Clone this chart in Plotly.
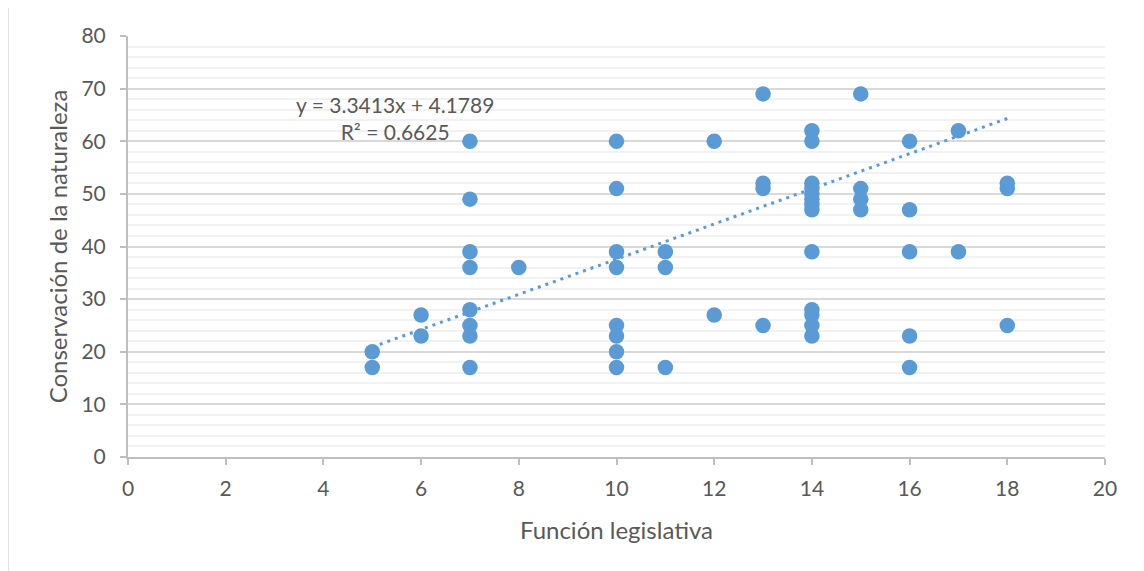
import plotly.graph_objects as go
import numpy as np

# Data
x_vals = [5, 5,
          6, 6,
          7, 7, 7, 7, 7, 7, 7, 7,
          8,
          10, 10, 10, 10, 10, 10, 10, 10,
          11, 11, 11,
          12, 12,
          13, 13, 13, 13,
          14, 14, 14, 14, 14, 14, 14, 14, 14, 14, 14, 14, 14,
          15, 15, 15, 15,
          16, 16, 16, 16, 16,
          17, 17,
          18, 18, 18]
y_vals = [20, 17,
          27, 23,
          60, 49, 39, 36, 28, 25, 23, 17,
          36,
          60, 51, 39, 36, 25, 23, 20, 17,
          39, 36, 17,
          60, 27,
          69, 52, 51, 25,
          62, 60, 52, 51, 50, 49, 48, 47, 39, 28, 27, 25, 23,
          69, 51, 49, 47,
          60, 47, 39, 23, 17,
          62, 39,
          52, 51, 25]

slope = 3.3413
intercept = 4.1789
r_squared = 0.6625

x_title = "Función legislativa"
y_title = "Conservación de la naturaleza"
x_ticks = [0, 2, 4, 6, 8, 10, 12, 14, 16, 18, 20]
y_ticks = [0, 10, 20, 30, 40, 50, 60, 70, 80]

blue = "#5B9BD5"
text_color = "#595959"
font_family = "Lato, 'Open Sans', sans-serif"

trend_x = np.array([min(x_vals), max(x_vals)], dtype=float)
trend_y = slope * trend_x + intercept

fig = go.Figure()

fig.add_trace(go.Scatter(
    x=x_vals, y=y_vals, mode="markers",
    marker=dict(size=15.5, color=blue, line=dict(width=0)),
    showlegend=False, hoverinfo="x+y"))

fig.add_trace(go.Scatter(
    x=trend_x, y=trend_y, mode="lines",
    line=dict(color=blue, width=3, dash="3px,5px"),
    showlegend=False, hoverinfo="skip"))

# page has an 8px body margin; plot area should land at (128..1105, 36..457)
OFF = 8
L, T = 128 - OFF, 36 - OFF
pw, ph = 977, 421
W, H = 1144, 571
R = W - L - pw
B = H - T - ph

def py(page_y):
    return (T + ph - (page_y - OFF)) / ph

def px(page_x):
    return (page_x - OFF - L) / pw

fig.update_layout(
    width=W, height=H,
    margin=dict(l=L, r=R, t=T, b=B, pad=0),
    paper_bgcolor="white", plot_bgcolor="white",
    font=dict(family=font_family, color=text_color, size=21),
    xaxis=dict(
        range=[0, 20], tickvals=x_ticks, ticktext=[str(v) for v in x_ticks],
        showgrid=False, zeroline=False,
        showline=True, linecolor="#BFBFBF", linewidth=2,
        ticks="outside", ticklen=6, tickcolor="#BFBFBF", tickwidth=2,
        ticklabelstandoff=6,
        tickfont=dict(size=21, color=text_color, family=font_family),
        title=dict(text=x_title, font=dict(size=24, color=text_color, family=font_family), standoff=23),
        fixedrange=True,
    ),
    yaxis=dict(
        range=[0, 80], tickvals=y_ticks, ticktext=[str(v) for v in y_ticks],
        showgrid=True, gridcolor="#D9D9D9", gridwidth=2,
        minor=dict(dtick=2, showgrid=True, gridcolor="#F2F2F2", gridwidth=2),
        zeroline=False,
        showline=True, linecolor="#BFBFBF", linewidth=2,
        ticks="outside", ticklen=6, tickcolor="#BFBFBF", tickwidth=2,
        ticklabelstandoff=10,
        tickfont=dict(size=21, color=text_color, family=font_family),
        title=dict(text=y_title, font=dict(size=24, color=text_color, family=font_family), standoff=7),
        fixedrange=True,
    ),
    annotations=[dict(
        x=px(395), y=py(118), xref="paper", yref="paper",
        text=f"y = {slope}x + {intercept}<br>R² = {r_squared}",
        showarrow=False, align="center", xanchor="center", yanchor="middle",
        font=dict(size=21, color=text_color, family=font_family),
    )],
    shapes=[dict(
        type="rect", xref="paper", yref="paper",
        x0=px(8), x1=px(1170),
        y0=py(600), y1=py(7),
        line=dict(color="#D9D9D9", width=1.5), fillcolor="rgba(0,0,0,0)",
        layer="below",
    )],
)

fig.write_html("out.html")
